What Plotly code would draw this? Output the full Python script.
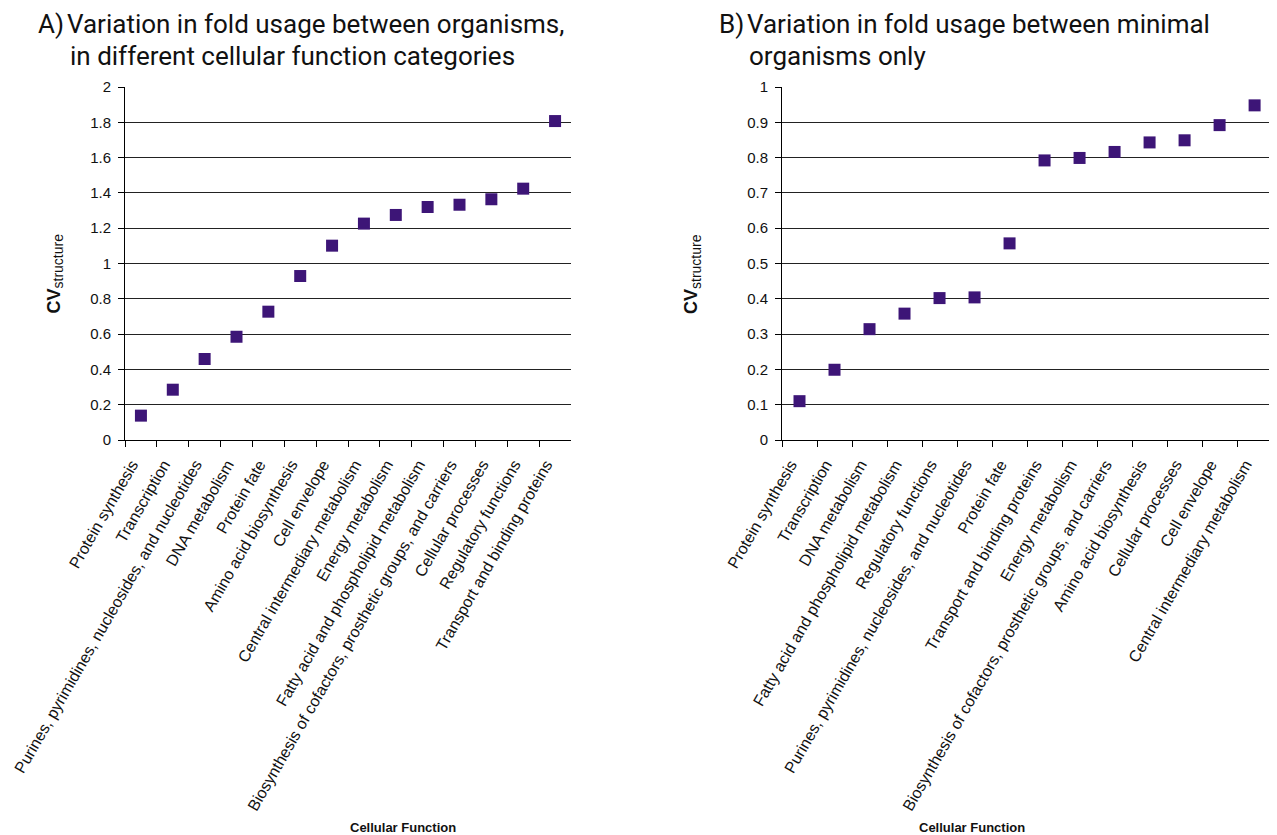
import plotly.graph_objects as go

cats_a = ["Protein synthesis", "Transcription",
          "Purines, pyrimidines, nucleosides, and nucleotides", "DNA metabolism",
          "Protein fate", "Amino acid biosynthesis", "Cell envelope",
          "Central intermediary metabolism", "Energy metabolism",
          "Fatty acid and phospholipid metabolism",
          "Biosynthesis of cofactors, prosthetic groups, and carriers",
          "Cellular processes", "Regulatory functions", "Transport and binding proteins"]
vals_a = [0.138, 0.285, 0.459, 0.585, 0.727, 0.929, 1.101, 1.226, 1.275, 1.320,
          1.333, 1.364, 1.424, 1.807]

cats_b = ["Protein synthesis", "Transcription", "DNA metabolism",
          "Fatty acid and phospholipid metabolism", "Regulatory functions",
          "Purines, pyrimidines, nucleosides, and nucleotides", "Protein fate",
          "Transport and binding proteins", "Energy metabolism",
          "Biosynthesis of cofactors, prosthetic groups, and carriers",
          "Amino acid biosynthesis", "Cellular processes", "Cell envelope",
          "Central intermediary metabolism"]
vals_b = [0.110, 0.199, 0.314, 0.358, 0.402, 0.404, 0.557, 0.792, 0.799, 0.816,
          0.843, 0.849, 0.892, 0.948]

# page body has an 8px margin, so the figure is drawn 8px in from the top-left
OFF = 8
W, H = 1277 - OFF, 835 - OFF
MARK = "#3D1577"
TXT = "#111111"

def px(x):
    return (x - OFF) / W

def py(y):
    return 1 - (y - OFF) / H

fig = go.Figure()
fig.add_trace(go.Scatter(x=cats_a, y=vals_a, mode="markers", xaxis="x", yaxis="y",
                         marker=dict(symbol="square", size=12, color=MARK),
                         showlegend=False))
fig.add_trace(go.Scatter(x=cats_b, y=vals_b, mode="markers", xaxis="x2", yaxis="y2",
                         marker=dict(symbol="square", size=12, color=MARK),
                         showlegend=False))

ydom = [py(440), py(87)]
xa_common = dict(type="category", tickson="boundaries", ticks="outside", ticklen=6,
                 tickcolor="#000", showline=True, linecolor="#000", linewidth=1,
                 showgrid=False, tickangle=-60, automargin=False,
                 ticklabelstandoff=8, ticklabelshift=-9,
                 tickfont=dict(family="Liberation Sans, Arial", size=16, color=TXT))
ya_common = dict(ticks="outside", ticklen=6, tickcolor="#000", showline=True,
                 linecolor="#000", linewidth=1, showgrid=True, gridcolor="#222222",
                 gridwidth=1, zeroline=False, ticklabelstandoff=4, automargin=False,
                 tickfont=dict(family="Liberation Sans, Arial", size=15, color=TXT))

fig.update_layout(
    width=W, height=H, margin=dict(l=0, r=0, t=0, b=0, autoexpand=False),
    paper_bgcolor="white", plot_bgcolor="white",
    xaxis=dict(domain=[px(125), px(571)], range=[-0.5, 13.5], anchor="y", **xa_common),
    yaxis=dict(domain=ydom, range=[0, 2], dtick=0.2, anchor="x", **ya_common),
    xaxis2=dict(domain=[px(782), 1.0], range=[-0.5, 13.64], anchor="y2", **xa_common),
    yaxis2=dict(domain=ydom, range=[0, 1], dtick=0.1, anchor="x2", **ya_common),
)

ann = []
TF = "Roboto, Lato, sans-serif"

def txt(x, ybase, s, size=26, fam=TF, anchor="left"):
    ann.append(dict(x=px(x), y=py(ybase), xref="paper", yref="paper", xanchor=anchor,
                    yanchor="bottom", text=s, showarrow=False, borderpad=0,
                    font=dict(family=fam, size=size, color=TXT)))

txt(37, 40, "A)")
txt(66, 40, "Variation in fold usage between organisms,")
txt(69, 72, "in different cellular function categories")
txt(718, 40, "B)")
txt(746, 40, "Variation in fold usage between minimal")
txt(748, 72, "organisms only")

for xc in [348, 1027]:
    ann.append(dict(x=px(xc), y=py(827), xref="paper", yref="paper", yanchor="middle",
                    text="<b>Cellular Function</b>", showarrow=False,
                    font=dict(family="Liberation Sans, Arial", size=13, color=TXT)))
for xc, yc in [(41, 232), (692, 232)]:
    ann.append(dict(x=px(xc), y=py(yc), xref="paper", yref="paper", textangle=-90,
                    text="<b>CV</b><sub><span style='font-size:14px'>structure</span></sub>",
                    showarrow=False,
                    font=dict(family="Liberation Sans, Arial", size=18, color=TXT)))

fig.update_layout(annotations=ann)
fig.write_html("out.html")
